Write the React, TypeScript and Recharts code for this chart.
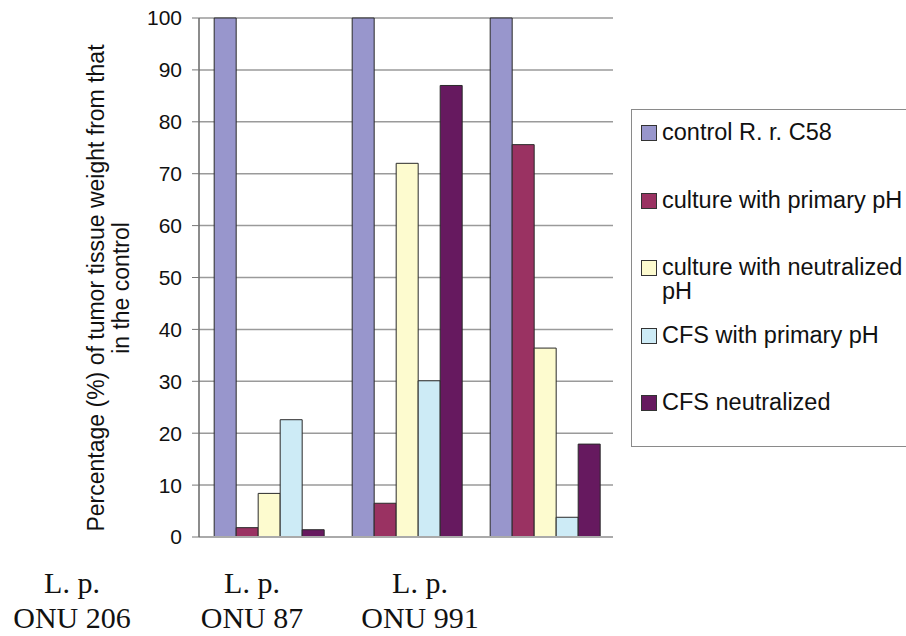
import { BarChart, Bar, XAxis, YAxis, CartesianGrid, Legend } from 'recharts'

// groups (strains)
const catLine1 = ['L. p.', 'L. p.', 'L. p.']
const catLine2 = ['ONU 206', 'ONU 87', 'ONU 991']

// series values (% of tumor tissue weight vs control)
const controlRr = [100, 100, 100]
const culturePrimary = [1.8, 6.5, 75.6]
const cultureNeutral = [8.4, 72, 36.4]
const cfsPrimary = [22.6, 30.1, 3.8]
const cfsNeutral = [1.4, 87, 17.9]

const yTicks = [0, 10, 20, 30, 40, 50, 60, 70, 80, 90, 100]

const seriesNames = [
  'control R. r. C58',
  'culture with primary pH',
  'culture with neutralized pH',
  'CFS with primary pH',
  'CFS neutralized',
]
const seriesColors = ['#9896cc', '#9a3262', '#fdfbcf', '#cdebf6', '#66195f']
const seriesKeys = ['control', 'culP', 'culN', 'cfsP', 'cfsN']

const data = catLine2.map((name, i) => ({
  name,
  control: controlRr[i],
  culP: culturePrimary[i],
  culN: cultureNeutral[i],
  cfsP: cfsPrimary[i],
  cfsN: cfsNeutral[i],
}))

const sans = '"Liberation Sans", Arial, sans-serif'
const serif = '"Liberation Serif", "Times New Roman", serif'

// the strain labels sit shifted left of their groups in the original
const labelX = [72, 252, 420]

function StrainTick({ index }: any) {
  const x = labelX[index] ?? 0
  return (
    <g>
      <text x={x} y={593} textAnchor="middle" fontFamily={serif} fontSize={30} fill="#111">
        {catLine1[index]}
      </text>
      <text x={x} y={628} textAnchor="middle" fontFamily={serif} fontSize={30} fill="#111">
        {catLine2[index]}
      </text>
    </g>
  )
}

function YTitle() {
  const cy = 288
  return (
    <g fontFamily={sans} fontSize={23} fill="#111">
      <text x={96} y={cy} textAnchor="middle" dominantBaseline="central" transform={`rotate(-90 96 ${cy})`}>
        Percentage (%) of tumor tissue weight from that
      </text>
      <text x={121} y={cy} textAnchor="middle" dominantBaseline="central" transform={`rotate(-90 121 ${cy})`}>
        in the control
      </text>
    </g>
  )
}

function LegendBox() {
  return (
    <div
      style={{
        position: 'relative',
        width: 290,
        height: 336,
        border: '1px solid #8a8a8a',
        background: '#fff',
        fontFamily: sans,
        fontSize: 23.5,
        color: '#111',
      }}
    >
      {seriesNames.map((n, i) => {
        const lines = n === 'culture with neutralized pH' ? ['culture with neutralized', 'pH'] : [n]
        return (
          <div key={n} style={{ position: 'absolute', left: 8, top: 10 + i * 67.5, lineHeight: '24px' }}>
            <span
              style={{
                position: 'absolute',
                left: 1,
                top: 5,
                width: 14,
                height: 14,
                background: seriesColors[i],
                border: '1px solid #333',
              }}
            />
            {lines.map((l) => (
              <div key={l} style={{ paddingLeft: 22, whiteSpace: 'nowrap' }}>
                {l}
              </div>
            ))}
          </div>
        )
      })}
    </div>
  )
}

export default function App() {
  return (
    <div style={{ position: 'absolute', left: 0, top: 0, width: 906, height: 636, background: '#fff' }}>
      <BarChart
        width={906}
        height={636}
        data={data}
        margin={{ top: 18, right: 293, bottom: 4, left: 139 }}
        barCategoryGap="11%"
        barGap={0}
      >
        <CartesianGrid vertical={false} stroke="#9a9a9a" strokeWidth={1.5} />
        <XAxis
          dataKey="name"
          height={95}
          axisLine={{ stroke: '#aaa', strokeWidth: 2 }}
          tickLine={false}
          tick={<StrainTick />}
          interval={0}
        />
        <YAxis
          domain={[0, 100]}
          ticks={yTicks}
          width={60}
          tickSize={7}
          tickMargin={10}
          axisLine={{ stroke: '#666', strokeWidth: 1.5 }}
          tickLine={{ stroke: '#777' }}
          tick={{ fontFamily: sans, fontSize: 21, fill: '#111' }}
          label={{ content: () => <YTitle /> }}
        />
        <YAxis
          yAxisId="r"
          orientation="right"
          domain={[0, 100]}
          width={0}
          tick={false}
          tickLine={false}
          axisLine={{ stroke: '#aaa', strokeWidth: 2 }}
        />
        <Legend
          layout="vertical"
          align="center"
          verticalAlign="middle"
          wrapperStyle={{ left: 631, top: 109, width: 292 }}
          content={() => <LegendBox />}
        />
        {seriesKeys.map((k, i) => (
          <Bar
            key={k}
            dataKey={k}
            name={seriesNames[i]}
            fill={seriesColors[i]}
            stroke="#2a2a2a"
            strokeWidth={1}
            isAnimationActive={false}
          />
        ))}
      </BarChart>
    </div>
  )
}
